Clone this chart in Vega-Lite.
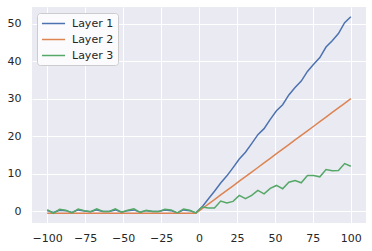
{
  "$schema": "https://vega.github.io/schema/vega-lite/v6.json",
  "width": 334,
  "height": 216,
  "autosize": {"type": "none"},
  "padding": {"left": 32, "top": 7, "right": 6, "bottom": 28},
  "background": "white",
  "config": {
    "view": {"fill": "#EAEAF2", "stroke": null},
    "font": "DejaVu Sans",
    "axis": {
      "grid": true, "gridColor": "white", "gridWidth": 1, "domain": false, "ticks": false, "tickSize": 0,
      "labelFont": "DejaVu Sans", "labelFontSize": 11, "labelColor": "#262626", "title": null
    },
    "legend": {
      "orient": "none", "legendX": 5, "legendY": 6, "title": null,
      "fillColor": "#FBFBFD", "strokeColor": "#CCCCCC", "cornerRadius": 3, "padding": 4,
      "symbolType": "M-2.1,0H2.1", "symbolSize": 121, "symbolOffset": 6, "symbolStrokeWidth": 1.5, "labelFont": "DejaVu Sans",
      "labelFontSize": 11, "labelColor": "#262626", "labelOffset": 12, "rowPadding": 4
    }
  },
  "data": {"values": [
    {"x": -100, "Layer 1": 0.1, "Layer 2": -0.6, "Layer 3": 0.35},
    {"x": -95.92, "Layer 1": -0.4, "Layer 2": -0.6, "Layer 3": -0.6},
    {"x": -91.84, "Layer 1": 0.2, "Layer 2": -0.6, "Layer 3": 0.45},
    {"x": -87.76, "Layer 1": 0.1, "Layer 2": -0.6, "Layer 3": 0.2},
    {"x": -83.67, "Layer 1": -0.4, "Layer 2": -0.6, "Layer 3": -0.5},
    {"x": -79.59, "Layer 1": 0.3, "Layer 2": -0.6, "Layer 3": 0.55},
    {"x": -75.51, "Layer 1": 0.0, "Layer 2": -0.6, "Layer 3": 0.1},
    {"x": -71.43, "Layer 1": -0.2, "Layer 2": -0.6, "Layer 3": -0.2},
    {"x": -67.35, "Layer 1": 0.3, "Layer 2": -0.6, "Layer 3": 0.6},
    {"x": -63.27, "Layer 1": -0.1, "Layer 2": -0.6, "Layer 3": -0.1},
    {"x": -59.18, "Layer 1": -0.1, "Layer 2": -0.6, "Layer 3": -0.1},
    {"x": -55.10, "Layer 1": 0.3, "Layer 2": -0.6, "Layer 3": 0.6},
    {"x": -51.02, "Layer 1": -0.3, "Layer 2": -0.6, "Layer 3": -0.3},
    {"x": -46.94, "Layer 1": 0.1, "Layer 2": -0.6, "Layer 3": 0.2},
    {"x": -42.86, "Layer 1": 0.3, "Layer 2": -0.6, "Layer 3": 0.6},
    {"x": -38.78, "Layer 1": -0.35, "Layer 2": -0.6, "Layer 3": -0.35},
    {"x": -34.69, "Layer 1": 0.1, "Layer 2": -0.6, "Layer 3": 0.2},
    {"x": -30.61, "Layer 1": -0.1, "Layer 2": -0.6, "Layer 3": -0.1},
    {"x": -26.53, "Layer 1": -0.1, "Layer 2": -0.6, "Layer 3": -0.1},
    {"x": -22.45, "Layer 1": 0.3, "Layer 2": -0.6, "Layer 3": 0.45},
    {"x": -18.37, "Layer 1": 0.1, "Layer 2": -0.6, "Layer 3": 0.3},
    {"x": -14.29, "Layer 1": -0.5, "Layer 2": -0.6, "Layer 3": -0.5},
    {"x": -10.20, "Layer 1": 0.3, "Layer 2": -0.6, "Layer 3": 0.55},
    {"x": -6.12, "Layer 1": 0.1, "Layer 2": -0.6, "Layer 3": 0.2},
    {"x": -2.04, "Layer 1": -0.5, "Layer 2": -0.6, "Layer 3": -0.5},
    {"x": 2.04, "Layer 1": 1.1, "Layer 2": 0.61, "Layer 3": 1.06},
    {"x": 6.12, "Layer 1": 3.2, "Layer 2": 1.84, "Layer 3": 0.8},
    {"x": 10.20, "Layer 1": 5.3, "Layer 2": 3.06, "Layer 3": 0.8},
    {"x": 14.29, "Layer 1": 7.5, "Layer 2": 4.29, "Layer 3": 2.66},
    {"x": 18.37, "Layer 1": 9.4, "Layer 2": 5.51, "Layer 3": 2.13},
    {"x": 22.45, "Layer 1": 11.6, "Layer 2": 6.73, "Layer 3": 2.57},
    {"x": 26.53, "Layer 1": 13.9, "Layer 2": 7.96, "Layer 3": 4.17},
    {"x": 30.61, "Layer 1": 15.7, "Layer 2": 9.18, "Layer 3": 3.28},
    {"x": 34.69, "Layer 1": 18.0, "Layer 2": 10.41, "Layer 3": 4.17},
    {"x": 38.78, "Layer 1": 20.4, "Layer 2": 11.63, "Layer 3": 5.5},
    {"x": 42.86, "Layer 1": 22.0, "Layer 2": 12.86, "Layer 3": 4.6},
    {"x": 46.94, "Layer 1": 24.5, "Layer 2": 14.08, "Layer 3": 6.03},
    {"x": 51.02, "Layer 1": 26.8, "Layer 2": 15.31, "Layer 3": 6.83},
    {"x": 55.10, "Layer 1": 28.4, "Layer 2": 16.53, "Layer 3": 5.94},
    {"x": 59.18, "Layer 1": 31.0, "Layer 2": 17.76, "Layer 3": 7.71},
    {"x": 63.27, "Layer 1": 33.0, "Layer 2": 18.98, "Layer 3": 8.16},
    {"x": 67.35, "Layer 1": 34.7, "Layer 2": 20.2, "Layer 3": 7.54},
    {"x": 71.43, "Layer 1": 37.3, "Layer 2": 21.43, "Layer 3": 9.49},
    {"x": 75.51, "Layer 1": 39.2, "Layer 2": 22.65, "Layer 3": 9.49},
    {"x": 79.59, "Layer 1": 41.0, "Layer 2": 23.88, "Layer 3": 9.13},
    {"x": 83.67, "Layer 1": 43.8, "Layer 2": 25.1, "Layer 3": 11.08},
    {"x": 87.76, "Layer 1": 45.5, "Layer 2": 26.33, "Layer 3": 10.73},
    {"x": 91.84, "Layer 1": 47.4, "Layer 2": 27.55, "Layer 3": 10.82},
    {"x": 95.92, "Layer 1": 50.3, "Layer 2": 28.78, "Layer 3": 12.68},
    {"x": 100, "Layer 1": 51.9, "Layer 2": 30.0, "Layer 3": 11.97}
  ]},
  "transform": [{"fold": ["Layer 1", "Layer 2", "Layer 3"], "as": ["layer", "value"]}],
  "mark": {"type": "line", "strokeWidth": 1.5, "clip": true},
  "encoding": {
    "x": {"field": "x", "type": "quantitative",
      "scale": {"domain": [-110, 110], "nice": false, "zero": false},
      "axis": {"values": [-100, -75, -50, -25, 0, 25, 50, 75, 100], "labelPadding": 9}},
    "y": {"field": "value", "type": "quantitative",
      "scale": {"domain": [-3.2, 54.5], "nice": false, "zero": false},
      "axis": {"values": [0, 10, 20, 30, 40, 50], "labelPadding": 11}},
    "color": {"field": "layer", "type": "nominal",
      "scale": {"domain": ["Layer 1", "Layer 2", "Layer 3"], "range": ["#4C72B0", "#DD8452", "#55A868"]}}
  }
}
